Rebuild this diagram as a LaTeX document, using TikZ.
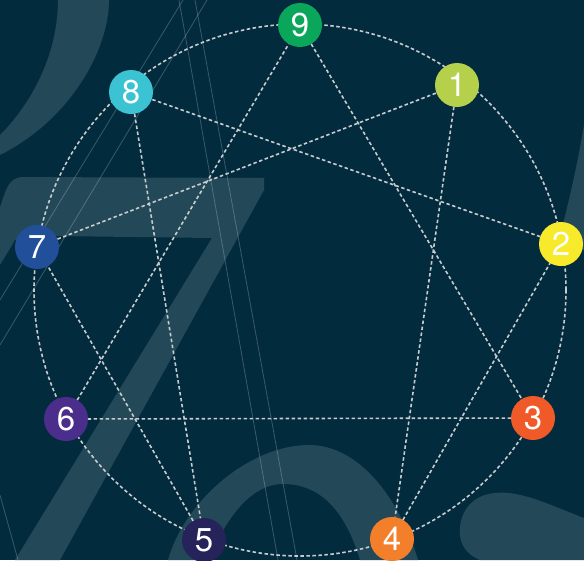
\documentclass[tikz,border=0pt]{standalone}
\usepackage{fontspec}
\setmainfont{TeX Gyre Heros}
\definecolor{bgc}{RGB}{3,43,62}
\definecolor{shp}{RGB}{35,72,88}
\definecolor{dsh}{RGB}{200,204,206}
\definecolor{c9}{RGB}{10,166,90}
\definecolor{c1}{RGB}{181,208,74}
\definecolor{c2}{RGB}{246,234,42}
\definecolor{c3}{RGB}{240,90,40}
\definecolor{c4}{RGB}{244,127,42}
\definecolor{c5}{RGB}{38,35,90}
\definecolor{c6}{RGB}{75,46,140}
\definecolor{c7}{RGB}{34,79,154}
\definecolor{c8}{RGB}{60,195,211}
\tikzset{
  num/.style={circle,fill=#1,minimum size=44pt,inner sep=0pt,outer sep=0pt,
    text=white,font=\fontsize{33}{33}\selectfont},
  dline/.style={draw=dsh,line width=1.6pt,dash pattern=on 3.5pt off 2.5pt},
  thin/.style={draw=white,opacity=0.22,line width=0.8pt},
  bgshape/.style={fill=shp}
}
\begin{document}
\begin{tikzpicture}[x=1pt,y=-1pt]
\fill[bgc] (0,0) rectangle (584,560);
\useasboundingbox (0,0) rectangle (584,560);
\begin{scope}
\clip (0,0) rectangle (584,560);
% top-left arc
\fill[bgshape] (109,0) .. controls (109,50) and (70,120) .. (0,155) -- (0,135) .. controls (35,100) and (58,50) .. (58,0) -- cycle;
% big 7
\fill[bgshape] (0,207) .. controls (6,190) and (8,178) .. (22,177) -- (264,178) -- (264,190) -- (60,560) -- (15,560) -- (212,238) -- (56,236) -- (15,240) -- (0,265) -- cycle;
% bottom arch
\fill[bgshape] (168,560) .. controls (185,500) and (250,445) .. (309,445) .. controls (360,445) and (400,500) .. (418,560) -- (360,560) .. controls (345,510) and (320,484) .. (283,484) .. controls (250,484) and (225,520) .. (209,560) -- cycle;
% right blob
\fill[bgshape] (584,518) .. controls (550,505) and (520,490) .. (495,493) .. controls (470,495) and (458,515) .. (460,535) .. controls (461,548) and (470,556) .. (480,560) -- (584,560) -- cycle;
% right edge wedge
\fill[bgshape] (584,125) .. controls (578,160) and (570,200) .. (556,250) -- (584,250) -- cycle;
% thin lines
\draw[thin] (179,0) -- (278,560);
\draw[thin] (195,0) -- (297,560);
\draw[thin] (183,0) -- (0,300);
\draw[thin] (207,0) -- (0,345);
\draw[thin] (0,495) -- (18,560);
\end{scope}
% dashed circle
\draw[dline] (300,290) circle[radius=266];
% nodes
\node[num=c9] (n9) at (300,25) {9};
\node[num=c1] (n1) at (457,85) {1};
\node[num=c2] (n2) at (561,244) {2};
\node[num=c3] (n3) at (533,418) {3};
\node[num=c4] (n4) at (392,539) {4};
\node[num=c5] (n5) at (204,540) {5};
\node[num=c6] (n6) at (66,419) {6};
\node[num=c7] (n7) at (37,247) {7};
\node[num=c8] (n8) at (131,92) {8};
% inner lines
\draw[dline] (n9) -- (n3);
\draw[dline] (n3) -- (n6);
\draw[dline] (n6) -- (n9);
\draw[dline] (n1) -- (n4);
\draw[dline] (n4) -- (n2);
\draw[dline] (n2) -- (n8);
\draw[dline] (n8) -- (n5);
\draw[dline] (n5) -- (n7);
\draw[dline] (n7) -- (n1);
\end{tikzpicture}
\end{document}
